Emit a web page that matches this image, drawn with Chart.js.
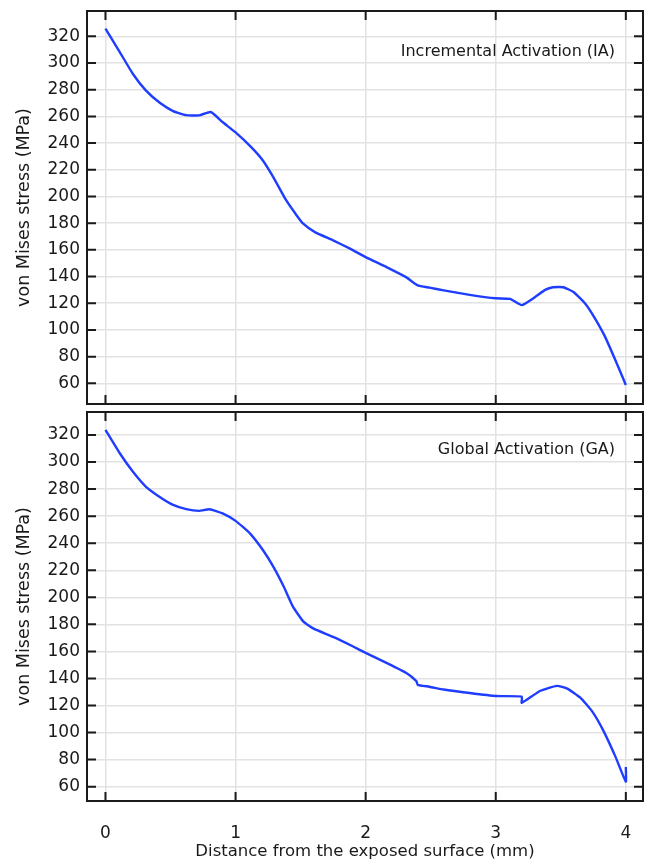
<!DOCTYPE html>
<html>
<head>
<meta charset="utf-8">
<script src="https://cdn.jsdelivr.net/npm/chart.js@4"></script>
<style>
  body { margin: 0; background: #fff; }
  #wrap { position: relative; width: 648px; height: 864px; }
  .panel { position: absolute; left: 0; }
</style>
</head>
<body>
<div id="wrap">
  <div class="panel" style="top:0"><canvas id="iaChart" width="648" height="410"></canvas></div>
  <div class="panel" style="top:410px"><canvas id="gaChart" width="648" height="454"></canvas></div>
</div>
<script>
// Distance from the exposed surface (mm) and von Mises stress (MPa)
const xTicks = [0, 1, 2, 3, 4];
const yTicks = [60, 80, 100, 120, 140, 160, 180, 200, 220, 240, 260, 280, 300, 320];

const iaDistance = [0, 0.11, 0.21, 0.31, 0.42, 0.52, 0.62, 0.72, 0.81, 0.90, 1.0, 1.12, 1.21, 1.29, 1.39, 1.47, 1.52, 1.61, 1.75, 1.88, 2.0, 2.16, 2.31, 2.40, 2.49, 2.6, 2.8, 3.0, 3.11, 3.2, 3.3, 3.38, 3.44, 3.52, 3.6, 3.69, 3.76, 3.84, 3.92, 4.0];
const iaStress   = [325.8, 308.2, 292, 279.5, 270, 264, 261, 260.8, 263.3, 255.8, 248, 237, 227, 214.5, 197, 185.8, 179.6, 173.3, 167.1, 160.9, 154.6, 147.1, 139.6, 133.4, 131.7, 129.6, 126.3, 123.7, 123.3, 118.6, 124.5, 130, 132, 132, 128.3, 119.5, 109.1, 95, 77.3, 58.8];

const gaDistance = [0, 0.11, 0.21, 0.31, 0.42, 0.52, 0.62, 0.72, 0.80, 0.90, 1.0, 1.11, 1.21, 1.29, 1.37, 1.44, 1.52, 1.60, 1.75, 1.90, 2.0, 2.16, 2.31, 2.39, 2.40, 2.49, 2.6, 2.8, 3.0, 3.2, 3.2, 3.34, 3.47, 3.55, 3.65, 3.74, 3.83, 3.92, 4.0, 4.0];
const gaStress   = [323.7, 306.5, 293, 281.9, 274, 268.3, 265.2, 263.9, 265.1, 262, 256.5, 247.3, 235, 222.7, 208, 193.3, 182.2, 176.8, 170.7, 163.8, 158.9, 151.5, 144.2, 138, 135.3, 133.9, 131.8, 129.2, 127, 126.6, 122, 130.7, 134.5, 132.5, 125.8, 115.8, 100.9, 82.2, 63.7, 74.5];

const FONT = 'DejaVu Sans';
const INK = '#1a1a1a';
const GRID = '#e2e2e2';

// box frame with inward ticks on all four sides, plus the panel caption
const framePlugin = {
  id: 'frame',
  afterDraw(chart, args, opts) {
    const { ctx, chartArea: a, scales: { x, y } } = chart;
    const len = 9;
    ctx.save();
    ctx.strokeStyle = INK;
    ctx.lineWidth = 2;
    ctx.beginPath();
    xTicks.forEach(v => {
      const px = x.getPixelForValue(v);
      ctx.moveTo(px, a.top);    ctx.lineTo(px, a.top + len);
      ctx.moveTo(px, a.bottom); ctx.lineTo(px, a.bottom - len);
    });
    yTicks.forEach(v => {
      const py = y.getPixelForValue(v);
      ctx.moveTo(a.left, py);  ctx.lineTo(a.left + len, py);
      ctx.moveTo(a.right, py); ctx.lineTo(a.right - len, py);
    });
    ctx.stroke();
    ctx.strokeRect(a.left, a.top, a.right - a.left, a.bottom - a.top);

    ctx.font = '16px "' + FONT + '"';
    ctx.fillStyle = INK;
    ctx.textAlign = 'right';
    ctx.textBaseline = 'middle';
    ctx.fillText(opts.caption, a.right - 28, a.top + opts.captionY);
    ctx.restore();
  }
};

function makeChart(id, xs, ys, cfg) {
  const points = xs.map((v, i) => ({ x: v, y: ys[i] }));
  return new Chart(document.getElementById(id), {
    type: 'scatter',
    data: {
      datasets: [{
        data: points,
        showLine: true,
        borderColor: '#1f3dff',
        borderWidth: 2.4,
        pointRadius: 0,
        pointHitRadius: 0,
        pointHoverRadius: 0,
        tension: 0.15,
        fill: false
      }]
    },
    options: {
      responsive: false,
      animation: false,
      events: [],
      layout: { padding: cfg.padding, autoPadding: false },
      plugins: {
        legend: { display: false },
        tooltip: { enabled: false },
        frame: { caption: cfg.caption, captionY: cfg.captionY }
      },
      scales: {
        x: {
          type: 'linear',
          min: -0.142,
          max: 4.132,
          afterBuildTicks: s => { s.ticks = xTicks.map(v => ({ value: v })); },
          afterFit: s => { s.height = cfg.xHeight; s.paddingLeft = 0; s.paddingRight = 0; },
          border: { display: false },
          grid: { color: GRID, lineWidth: 1.5, drawTicks: false },
          ticks: {
            display: cfg.showX,
            color: INK,
            padding: 22,
            font: { family: FONT, size: 17 },
            maxRotation: 0
          },
          title: {
            display: cfg.showX,
            text: 'Distance from the exposed surface (mm)',
            color: INK,
            font: { family: FONT, size: 16.5 },
            padding: { top: 0, bottom: 2 }
          }
        },
        y: {
          type: 'linear',
          min: cfg.yMin,
          max: cfg.yMax,
          afterBuildTicks: s => { s.ticks = yTicks.map(v => ({ value: v })); },
          afterFit: s => { s.width = 87; s.paddingTop = 0; s.paddingBottom = 0; },
          border: { display: false },
          grid: { color: GRID, lineWidth: 1.5, drawTicks: false },
          ticks: {
            color: INK,
            padding: 7,
            font: { family: FONT, size: 17 }
          },
          title: {
            display: true,
            text: 'von Mises stress (MPa)',
            color: INK,
            font: { family: FONT, size: 17.5 },
            padding: { top: 14, bottom: 0 }
          }
        }
      }
    },
    plugins: [framePlugin]
  });
}

makeChart('iaChart', iaDistance, iaStress, {
  caption: 'Incremental Activation (IA)',
  captionY: 41,
  yMin: 44.5,
  yMax: 339,
  showX: false,
  xHeight: 0,
  padding: { left: 0, right: 5, top: 11, bottom: 6 }
});

makeChart('gaChart', gaDistance, gaStress, {
  caption: 'Global Activation (GA)',
  captionY: 38,
  yMin: 49.4,
  yMax: 337,
  showX: true,
  xHeight: 63,
  padding: { left: 0, right: 5, top: 2, bottom: 0 }
});
</script>
</body>
</html>
